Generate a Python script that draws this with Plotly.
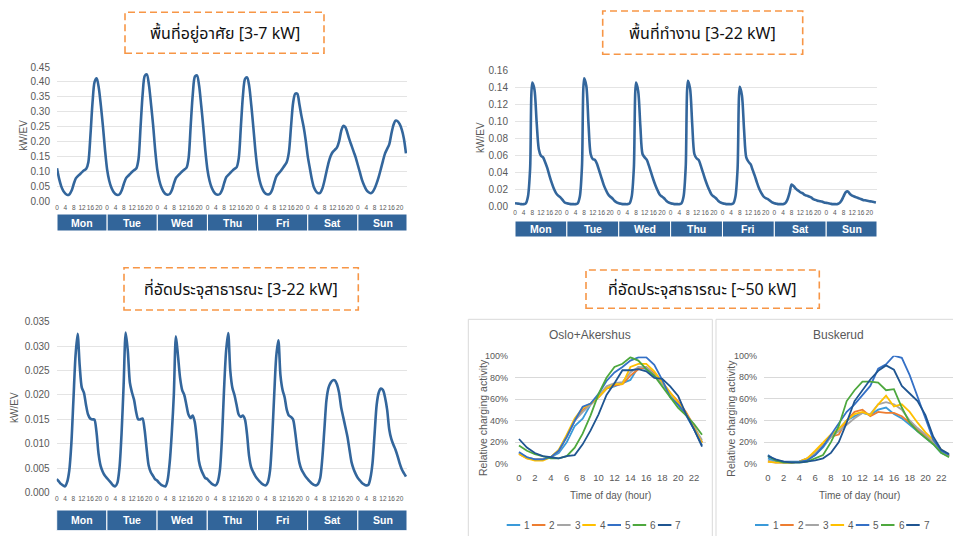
import plotly.graph_objects as go

# ---------------- DATA ----------------
days = ["Mon", "Tue", "Wed", "Thu", "Fri", "Sat", "Sun"]
hour_labels = ["0", "4", "8", "12", "16", "20"]
hour_label_vals = [0, 4, 8, 12, 16, 20]

# Residential [3-7 kW], kW/EV, hourly 0..23 per day
home_mon = [0.110, 0.075, 0.050, 0.034, 0.025, 0.020, 0.023, 0.035, 0.057, 0.076, 0.084, 0.090, 0.097, 0.103, 0.108, 0.130, 0.220, 0.330, 0.400, 0.412, 0.380, 0.320, 0.250, 0.170]
home_tue = [0.105, 0.068, 0.045, 0.031, 0.023, 0.020, 0.023, 0.036, 0.058, 0.076, 0.084, 0.091, 0.098, 0.104, 0.110, 0.140, 0.250, 0.360, 0.420, 0.425, 0.390, 0.325, 0.255, 0.170]
home_wed = [0.105, 0.068, 0.045, 0.031, 0.023, 0.021, 0.024, 0.037, 0.060, 0.078, 0.086, 0.093, 0.100, 0.106, 0.112, 0.145, 0.255, 0.360, 0.418, 0.422, 0.388, 0.322, 0.250, 0.168]
home_thu = [0.105, 0.068, 0.045, 0.031, 0.023, 0.021, 0.024, 0.037, 0.060, 0.080, 0.088, 0.095, 0.102, 0.108, 0.114, 0.145, 0.250, 0.355, 0.410, 0.415, 0.385, 0.320, 0.245, 0.165]
home_fri = [0.105, 0.068, 0.045, 0.031, 0.024, 0.022, 0.025, 0.038, 0.062, 0.083, 0.092, 0.100, 0.110, 0.120, 0.132, 0.165, 0.250, 0.330, 0.360, 0.360, 0.325, 0.285, 0.250, 0.205]
home_sat = [0.150, 0.110, 0.072, 0.045, 0.032, 0.026, 0.028, 0.042, 0.068, 0.100, 0.130, 0.152, 0.165, 0.172, 0.180, 0.200, 0.235, 0.252, 0.248, 0.228, 0.205, 0.185, 0.165, 0.145]
home_sun = [0.120, 0.095, 0.070, 0.052, 0.038, 0.030, 0.026, 0.030, 0.042, 0.060, 0.082, 0.108, 0.135, 0.160, 0.175, 0.190, 0.225, 0.255, 0.270, 0.268, 0.258, 0.240, 0.210, 0.160]

# Workplace [3-22 kW]
work_mon = [0.0040, 0.0037, 0.0034, 0.0030, 0.0030, 0.0040, 0.012, 0.045, 0.146, 0.138, 0.100, 0.068, 0.060, 0.058, 0.052, 0.045, 0.036, 0.028, 0.021, 0.016, 0.013, 0.011, 0.008, 0.005]
work_tue = [0.0040, 0.0035, 0.0030, 0.0030, 0.0030, 0.0040, 0.012, 0.048, 0.151, 0.142, 0.098, 0.062, 0.056, 0.055, 0.050, 0.042, 0.034, 0.026, 0.020, 0.015, 0.012, 0.010, 0.007, 0.005]
work_wed = [0.0040, 0.0035, 0.0030, 0.0030, 0.0030, 0.0040, 0.012, 0.046, 0.146, 0.136, 0.095, 0.062, 0.058, 0.055, 0.048, 0.040, 0.032, 0.025, 0.019, 0.014, 0.012, 0.010, 0.007, 0.005]
work_thu = [0.0040, 0.0035, 0.0030, 0.0030, 0.0030, 0.0040, 0.012, 0.047, 0.148, 0.139, 0.097, 0.062, 0.057, 0.055, 0.048, 0.040, 0.032, 0.025, 0.019, 0.014, 0.012, 0.010, 0.007, 0.005]
work_fri = [0.0040, 0.0035, 0.0030, 0.0030, 0.0030, 0.0040, 0.012, 0.045, 0.141, 0.131, 0.090, 0.058, 0.053, 0.050, 0.043, 0.036, 0.028, 0.021, 0.016, 0.012, 0.010, 0.009, 0.007, 0.005]
work_sat = [0.0040, 0.0035, 0.0030, 0.0030, 0.0030, 0.0040, 0.008, 0.016, 0.026, 0.024, 0.021, 0.019, 0.017, 0.016, 0.014, 0.013, 0.012, 0.011, 0.009, 0.008, 0.007, 0.0065, 0.006, 0.005]
work_sun = [0.0045, 0.0040, 0.0035, 0.0030, 0.0030, 0.0030, 0.004, 0.007, 0.012, 0.017, 0.018, 0.015, 0.013, 0.012, 0.011, 0.010, 0.009, 0.008, 0.0075, 0.007, 0.0065, 0.006, 0.0055, 0.005]

# Public [3-22 kW]
pub_mon = [0.0028, 0.0023, 0.0018, 0.0015, 0.0013, 0.0022, 0.0045, 0.010, 0.019, 0.028, 0.0325, 0.026, 0.0215, 0.0205, 0.018, 0.016, 0.0152, 0.015, 0.015, 0.0125, 0.008, 0.0055, 0.0043, 0.0035]
pub_tue = [0.0030, 0.0025, 0.0020, 0.0015, 0.0013, 0.0020, 0.0050, 0.012, 0.022, 0.0328, 0.029, 0.0225, 0.0205, 0.019, 0.0165, 0.015, 0.015, 0.0152, 0.013, 0.009, 0.0055, 0.0042, 0.0035, 0.0028]
pub_wed = [0.0025, 0.0020, 0.0016, 0.0014, 0.0013, 0.0025, 0.0060, 0.012, 0.020, 0.032, 0.028, 0.0235, 0.021, 0.020, 0.018, 0.016, 0.0153, 0.0158, 0.0145, 0.011, 0.0065, 0.0048, 0.0038, 0.0030]
pub_thu = [0.0028, 0.0023, 0.0019, 0.0016, 0.0015, 0.0022, 0.0045, 0.011, 0.021, 0.029, 0.0327, 0.025, 0.0215, 0.020, 0.018, 0.016, 0.0155, 0.0158, 0.015, 0.012, 0.0075, 0.0052, 0.0042, 0.0034]
pub_fri = [0.0028, 0.0023, 0.0019, 0.0016, 0.0015, 0.0022, 0.0045, 0.011, 0.020, 0.028, 0.0312, 0.024, 0.021, 0.0195, 0.017, 0.0158, 0.0155, 0.015, 0.0125, 0.009, 0.0062, 0.0048, 0.0040, 0.0033]
pub_sat = [0.0028, 0.0023, 0.0019, 0.0016, 0.0015, 0.0018, 0.0030, 0.007, 0.013, 0.019, 0.0215, 0.0225, 0.023, 0.023, 0.0222, 0.0205, 0.0175, 0.0155, 0.0135, 0.0115, 0.0088, 0.0062, 0.0048, 0.0038]
pub_sun = [0.0030, 0.0025, 0.0020, 0.0017, 0.0015, 0.0016, 0.0030, 0.006, 0.012, 0.018, 0.0205, 0.0213, 0.021, 0.0195, 0.017, 0.013, 0.011, 0.0098, 0.0088, 0.0075, 0.006, 0.0048, 0.0040, 0.0033]

# Fast charging [~50 kW], relative charging activity, hours 0..23
hours = list(range(24))
series_names = ["1", "2", "3", "4", "5", "6", "7"]
series_colors = ["#3A9AD9", "#ED7D31", "#A5A5A5", "#FFC000", "#3470C6", "#4EA83E", "#1F5591"]

oslo_1 = [10, 6, 4, 4, 6, 10, 20, 35, 42, 55, 62, 70, 72, 75, 78, 90, 88, 82, 75, 65, 55, 45, 32, 20]
oslo_2 = [9, 5, 4, 4, 6, 12, 25, 40, 50, 55, 62, 70, 73, 74, 82, 88, 90, 84, 76, 66, 58, 48, 35, 20]
oslo_3 = [10, 6, 4, 4, 6, 12, 25, 40, 48, 55, 63, 72, 75, 76, 85, 90, 90, 83, 75, 65, 56, 46, 34, 22]
oslo_4 = [9, 5, 3, 3, 6, 13, 27, 42, 52, 56, 62, 70, 74, 74, 90, 93, 93, 86, 76, 66, 57, 47, 33, 19]
oslo_5 = [11, 6, 4, 4, 6, 12, 25, 40, 53, 56, 65, 77, 85, 90, 96, 99, 99, 92, 78, 62, 55, 46, 32, 17]
oslo_6 = [17, 12, 9, 7, 5, 5, 7, 15, 28, 45, 65, 80, 90, 93, 99, 96, 88, 82, 72, 62, 52, 45, 37, 27]
oslo_7 = [23, 15, 10, 7, 6, 5, 7, 8, 18, 31, 46, 64, 75, 87, 87, 88, 86, 80, 79, 72, 63, 46, 32, 16]

busk_1 = [5, 2, 1, 1, 2, 4, 8, 15, 25, 32, 40, 44, 47, 45, 50, 52, 46, 42, 36, 30, 24, 18, 10, 7]
busk_2 = [2, 1, 1, 1, 2, 5, 10, 18, 25, 27, 40, 48, 50, 44, 48, 47, 47, 44, 38, 32, 26, 19, 12, 7]
busk_3 = [3, 1, 1, 1, 2, 5, 10, 17, 25, 30, 36, 42, 47, 46, 55, 57, 55, 50, 40, 33, 27, 20, 12, 7]
busk_4 = [2, 1, 1, 1, 2, 5, 12, 20, 27, 32, 40, 46, 48, 45, 55, 63, 53, 55, 48, 38, 29, 22, 13, 8]
busk_5 = [8, 3, 2, 2, 2, 3, 8, 16, 27, 37, 48, 55, 64, 72, 88, 92, 100, 98, 82, 62, 40, 22, 12, 8]
busk_6 = [7, 3, 1, 1, 1, 2, 5, 8, 20, 35, 58, 68, 76, 76, 75, 68, 69, 52, 38, 30, 24, 18, 10, 6]
busk_7 = [7, 4, 2, 1, 1, 2, 3, 5, 10, 20, 38, 58, 68, 78, 86, 91, 87, 72, 65, 58, 45, 25, 13, 9]

# ---------------- HELPERS ----------------
W, H = 953, 536


def px(x):
    return x / W


def py(y):
    return 1 - y / H


ARIAL = "Liberation Sans, Arial, sans-serif"
NARROW = "Liberation Sans Narrow, Liberation Sans, Arial, sans-serif"
THAI = "Noto Sans Thai, Noto Sans Thai UI, Tahoma, Noto Sans, sans-serif"
LINE_BLUE = "#33669C"
BAND_BLUE = "#32659A"
GRID = "#E4E4E4"
TICKC = "#595959"

fig = go.Figure()
shapes = []
annotations = []

week_x = list(range(168))
week_tickvals = [d * 24 + h for d in range(7) for h in hour_label_vals]
week_ticktext = [t for d in range(7) for t in hour_labels]

week_panels = [
    # (axis suffix, data, xdom px, ydom px (bottom, top), yrange, dtick, fmt, band px, ytitle pos)
    ("", [home_mon, home_tue, home_wed, home_thu, home_fri, home_sat, home_sun],
     (57, 407), (201, 67), 0.45, 0.05, ".2f", (214, 231), (22.7, 135)),
    ("2", [work_mon, work_tue, work_wed, work_thu, work_fri, work_sat, work_sun],
     (515, 877), (206.7, 70.7), 0.16, 0.02, ".2f", (221, 237), (480, 137)),
    ("3", [pub_mon, pub_tue, pub_wed, pub_thu, pub_fri, pub_sat, pub_sun],
     (56.7, 407), (492.7, 321.7), 0.035, 0.005, ".3f", (510, 530.7), (14, 408)),
]

layout_axes = {}
for suf, data, xd, yd, ymax, dt, fmt, band, ytp in week_panels:
    yvals = [v for day in data for v in day]
    fig.add_trace(go.Scatter(
        x=week_x, y=yvals, mode="lines", xaxis="x" + suf, yaxis="y" + suf,
        line=dict(color=LINE_BLUE, width=2.6, shape="spline", smoothing=0.8),
        showlegend=False, hoverinfo="skip"))
    layout_axes["xaxis" + suf] = dict(
        domain=[px(xd[0]), px(xd[1])], range=[0, 167.5], anchor="y" + suf,
        tickvals=week_tickvals, ticktext=week_ticktext, tickangle=0,
        tickfont=dict(family=ARIAL, size=6.5, color=TICKC),
        showgrid=False, zeroline=False, showline=False, ticks="",
        ticklabelstandoff=1, fixedrange=True, automargin=False)
    layout_axes["yaxis" + suf] = dict(
        domain=[py(yd[0]), py(yd[1])], range=[0, ymax], anchor="x" + suf,
        dtick=dt, tick0=0, tickformat=fmt,
        tickfont=dict(family=ARIAL, size=10, color=TICKC),
        showgrid=True, gridcolor=GRID, gridwidth=1, zeroline=False,
        showline=False, ticks="", ticklabelstandoff=6, fixedrange=True,
        automargin=False)
    for d, name in enumerate(days):
        shapes.append(dict(type="rect", xref="x" + suf, yref="paper",
                           x0=d * 24, x1=(d + 1) * 24 if d < 6 else 167.5,
                           y0=py(band[1]), y1=py(band[0]),
                           fillcolor=BAND_BLUE, line=dict(color="white", width=1),
                           layer="above"))
        annotations.append(dict(xref="x" + suf, yref="paper", x=d * 24 + 12,
                                y=py((band[0] + band[1]) / 2), text="<b>%s</b>" % name,
                                showarrow=False, xanchor="center", yanchor="middle",
                                font=dict(family=ARIAL, size=10.5, color="white")))
    annotations.append(dict(xref="paper", yref="paper", x=px(ytp[0]), y=py(ytp[1]),
                            text="kW/EV", textangle=-90, showarrow=False,
                            xanchor="center", yanchor="middle",
                            font=dict(family=ARIAL, size=10, color=TICKC)))

# ---- fast charging panels ----
fast_panels = [
    ("4", "Oslo+Akershus", [oslo_1, oslo_2, oslo_3, oslo_4, oslo_5, oslo_6, oslo_7],
     (515, 706), (463.7, 356.3), (468.3, 712.3), 590, 483, 610.7, 506.7),
    ("5", "Buskerud", [busk_1, busk_2, busk_3, busk_4, busk_5, busk_6, busk_7],
     (764, 953), (463.7, 355.7), (716, 960), 838, 730.7, 859, 755),
]

for suf, title, series, xd, yd, box, tx, ytx, xtx, legx in fast_panels:
    shapes.append(dict(type="rect", xref="paper", yref="paper",
                       x0=px(box[0]), x1=px(box[1]), y0=py(545), y1=py(319.3),
                       line=dict(color="#D9D9D9", width=1), fillcolor="rgba(0,0,0,0)",
                       layer="below"))
    for name, vals, col in zip(series_names, series, series_colors):
        fig.add_trace(go.Scatter(
            x=hours, y=[v / 100 for v in vals], mode="lines", name=name,
            xaxis="x" + suf, yaxis="y" + suf,
            line=dict(color=col, width=1.8), showlegend=False, hoverinfo="skip",
            cliponaxis=False))
    layout_axes["xaxis" + suf] = dict(
        domain=[px(xd[0]), px(xd[1])], range=[-0.5, 23.5], anchor="y" + suf,
        tickvals=list(range(0, 24, 2)), tickangle=0,
        tickfont=dict(family=NARROW, size=9.5, color=TICKC),
        showgrid=False, zeroline=False, showline=False, ticks="",
        ticklabelstandoff=7, fixedrange=True, automargin=False)
    layout_axes["yaxis" + suf] = dict(
        domain=[py(yd[0]), py(yd[1])], range=[0, 1.0], anchor="x" + suf,
        dtick=0.2, tick0=0, tickformat=".0%",
        tickfont=dict(family=NARROW, size=9, color=TICKC),
        showgrid=True, gridcolor="#D9D9D9", gridwidth=1, zeroline=False,
        showline=False, ticks="", ticklabelstandoff=6, fixedrange=True,
        automargin=False)
    annotations.append(dict(xref="paper", yref="paper", x=px(tx), y=py(334.7),
                            text=title, showarrow=False, xanchor="center", yanchor="middle",
                            font=dict(family=NARROW, size=12, color="#595959")))
    annotations.append(dict(xref="paper", yref="paper", x=px(ytx), y=py(418),
                            text="Relative charging activity", textangle=-90,
                            showarrow=False, xanchor="center", yanchor="middle",
                            font=dict(family=NARROW, size=10.5, color=TICKC)))
    annotations.append(dict(xref="paper", yref="paper", x=px(xtx), y=py(495.3),
                            text="Time of day (hour)", showarrow=False,
                            xanchor="center", yanchor="middle",
                            font=dict(family=NARROW, size=10, color=TICKC)))
    # legend row
    for i, (name, col) in enumerate(zip(series_names, series_colors)):
        x0 = legx + i * 25.2
        shapes.append(dict(type="line", xref="paper", yref="paper",
                           x0=px(x0), x1=px(x0 + 13.5), y0=py(525), y1=py(525),
                           line=dict(color=col, width=2)))
        annotations.append(dict(xref="paper", yref="paper", x=px(x0 + 15.5), y=py(525),
                                text=name, showarrow=False, xanchor="left",
                                yanchor="middle",
                                font=dict(family=NARROW, size=10, color=TICKC)))

# ---- orange dashed title boxes ----
title_boxes = [
    ("พื้นที่อยู่อาศัย [3-7 kW]", (125, 324, 12.3, 53.3)),
    ("พื้นที่ทำงาน [3-22 kW]", (602.7, 802.7, 11, 54.3)),
    ("ที่อัดประจุสาธารณะ [3-22 kW]", (124, 358.3, 267.7, 310)),
    ("ที่อัดประจุสาธารณะ [~50 kW]", (586, 819.3, 270, 308.3)),
]
for text, (x0, x1, y0, y1) in title_boxes:
    shapes.append(dict(type="rect", xref="paper", yref="paper",
                       x0=px(x0), x1=px(x1), y0=py(y1), y1=py(y0),
                       line=dict(color="#F79646", width=1.6, dash="7px,4px"),
                       fillcolor="rgba(0,0,0,0)"))
    annotations.append(dict(xref="paper", yref="paper", x=px((x0 + x1) / 2),
                            y=py((y0 + y1) / 2 + 1), text=text, showarrow=False,
                            xanchor="center", yanchor="middle",
                            font=dict(family=THAI, size=16, color="#111111")))

fig.update_layout(
    width=W, height=H, margin=dict(l=0, r=0, t=0, b=0, autoexpand=False),
    paper_bgcolor="white", plot_bgcolor="rgba(0,0,0,0)",
    showlegend=False, shapes=shapes, annotations=annotations,
    **layout_axes)

fig.write_html("out.html", config={"displayModeBar": False},
               post_script="document.body.style.margin='0';document.body.style.overflow='hidden';")
